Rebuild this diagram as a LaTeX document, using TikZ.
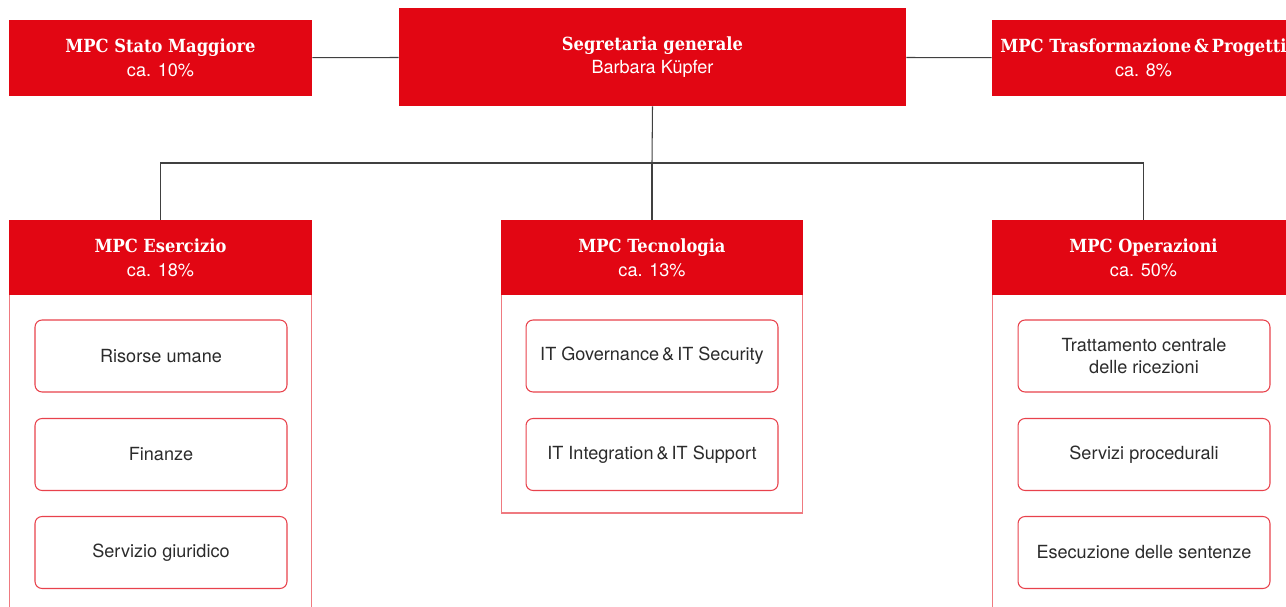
\documentclass[tikz,border=0pt]{standalone}
\usepackage{fontspec}
\setmainfont{TeX Gyre Heros}
\newfontfamily\slabfont{DejaVu Serif Condensed}
\usetikzlibrary{positioning}
\definecolor{mpcred}{HTML}{E20613}
\definecolor{framered}{HTML}{EF7A80}
\definecolor{boxred}{HTML}{E8424C}
\definecolor{textgrey}{HTML}{2B2B2B}

\begin{document}
\begin{tikzpicture}
[x=0.02cm,y=-0.02cm,
  headDecorate/.style={shape=rectangle,fill=mpcred,text=white,align=center,%
    minimum width=6.06cm,minimum height=1.5cm,inner sep=0pt,%
    font=\fontsize{10.3}{13.5}\selectfont},%
  unitDecorate/.style={shape=rectangle,draw=boxred,rounded corners=4pt,%
    line width=0.6pt,text=textgrey,align=center,minimum width=5.04cm,%
    minimum height=1.44cm,inner sep=0pt,font=\fontsize{10.3}{12.5}\selectfont},%
  frameDecorate/.style={draw=framered,line width=0.6pt},%
  lineDecorate/.style={-,draw=black!75,line width=0.6pt}]
\useasboundingbox (0,0) rectangle (1286,607);
\clip (0,0) rectangle (1286,607);
%% top row
\node (sg) at (652.5,57) [headDecorate,minimum width=10.14cm,minimum height=1.96cm]
  {{\slabfont\bfseries Segretaria generale}\\Barbara Küpfer};
\node (sm) at (160.5,58) [headDecorate,minimum height=1.52cm]
  {{\slabfont\bfseries MPC Stato Maggiore}\\ca. 10\%};
\node (tp) at (1143.5,58) [headDecorate,minimum height=1.52cm]
  {{\slabfont\bfseries MPC Trasformazione\,\&\,Progetti}\\ca. 8\%};
%% divisions
\node (es) at (160.5,257.5) [headDecorate] {{\slabfont\bfseries MPC Esercizio}\\ca. 18\%};
\node (te) at (652,257.5) [headDecorate] {{\slabfont\bfseries MPC Tecnologia}\\ca. 13\%};
\node (op) at (1143.5,257.5) [headDecorate] {{\slabfont\bfseries MPC Operazioni}\\ca. 50\%};
%% frames below the divisions
\coordinate (frameend) at (0,625);
\coordinate (teend) at (0,513);
\draw[frameDecorate] ([xshift=0.5pt]es.south west) -- ([xshift=0.5pt]es.south west |- frameend)
  -| ([xshift=-0.5pt]es.south east);
\draw[frameDecorate] ([xshift=0.5pt]te.south west) -- ([xshift=0.5pt]te.south west |- teend)
  -| ([xshift=-0.5pt]te.south east);
\draw[frameDecorate] ([xshift=0.5pt]op.south west) -- ([xshift=0.5pt]op.south west |- frameend)
  -| ([xshift=-0.5pt]op.south east);
%% units
\foreach \nodename/\x/\y/\txt in {es1/161/356/Risorse umane, es2/161/454.5/Finanze,
  es3/161/552.5/Servizio giuridico,
  te1/652/356/{IT Governance\,\&\,IT Security}, te2/652/454.5/{IT Integration\,\&\,IT Support},
  op1/1144/356/{Trattamento centrale\\delle ricezioni}, op2/1144/454.5/Servizi procedurali,
  op3/1144/552.5/Esecuzione delle sentenze}
{
  \node (\nodename) at (\x,\y) [unitDecorate] {\txt};
}
%% lines
\coordinate (bus) at (652,163);
\draw[lineDecorate] (sm) -- (sg);
\draw[lineDecorate] (sg) -- (tp);
\draw[lineDecorate] (sg.south) -- (bus);
\draw[lineDecorate] (es.north) |- (bus) -| (op.north);
\draw[lineDecorate] (bus) -- (te.north);
\end{tikzpicture}
\end{document}
